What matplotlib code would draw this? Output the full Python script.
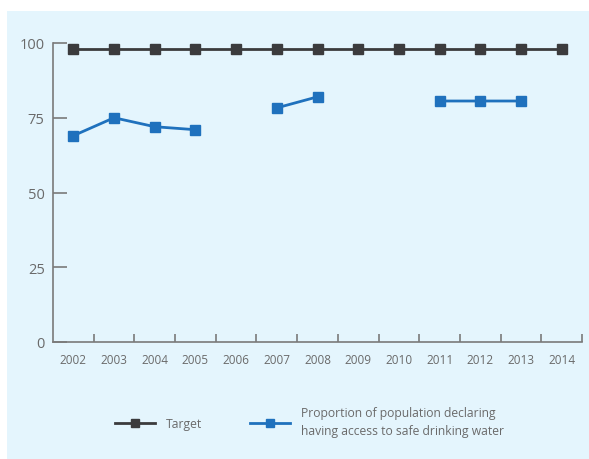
import numpy as np
import matplotlib.pyplot as plt
from matplotlib.patches import Rectangle

plt.rcParams['font.family'] = ['Open Sans', 'DejaVu Sans']

years = [2002, 2003, 2004, 2005, 2006, 2007, 2008, 2009, 2010, 2011, 2012, 2013, 2014]
target = [98, 98, 98, 98, 98, 98, 98, 98, 98, 98, 98, 98, 98]
# gaps (None) where no survey value exists
access = [69, 75, 72, 71, None, 78.3, 82, None, None, 80.6, 80.6, 80.6, None]
yticks = [0, 25, 50, 75, 100]

BG = '#E4F5FD'
AXIS = '#7a7a7a'
TEXT = '#6a6a6a'
DARK = '#3b3b3d'
BLUE = '#1f71bd'

W, H = 589, 460
fig = plt.figure(figsize=(W / 100, H / 100), dpi=100)
fig.patch.set_facecolor('white')
fig.patches.append(Rectangle((7 / W, 0), 1 - 7 / W, 1 - 12 / H,
                             transform=fig.transFigure, facecolor=BG,
                             edgecolor='none', zorder=-5))

ax = fig.add_axes([53 / W, 1 - 343 / H, (582 - 53) / W, (343 - 44) / H])
ax.set_facecolor('none')

x = np.arange(len(years))
acc = np.array([np.nan if v is None else v for v in access], dtype=float)

ax.plot(x, target, color=DARK, lw=2, marker='s', ms=6.5, mec=DARK,
        label='Target', zorder=3, clip_on=False)
ax.plot(x, acc, color=BLUE, lw=2, marker='s', ms=6.5, mec=BLUE,
        label='Proportion of population declaring\nhaving access to safe drinking water',
        zorder=3, clip_on=False)

ax.set_xlim(-0.5, len(years) - 0.5)
ax.set_ylim(0, 100)

for s in ['top', 'right']:
    ax.spines[s].set_visible(False)
for s in ['left', 'bottom']:
    ax.spines[s].set_color(AXIS)
    ax.spines[s].set_linewidth(1.2)

# y ticks point inward
ax.set_yticks(yticks)
ax.tick_params(axis='y', direction='in', length=10, width=1.2, color=AXIS,
               labelsize=10.5, labelcolor=TEXT, pad=6)

# x ticks on category boundaries, labels on centres
ax.set_xticks(np.arange(0.5, len(years), 1.0))
ax.set_xticklabels([])
ax.tick_params(axis='x', which='major', direction='in', length=6, width=1.2,
               color=AXIS)
ax.set_xticks(x, minor=True)
ax.set_xticklabels([str(y) for y in years], minor=True)
ax.tick_params(axis='x', which='minor', length=0, labelsize=8.5,
               labelcolor=TEXT, pad=8)

leg = fig.legend(loc='center left', bbox_to_anchor=(104 / W, 1 - 423 / H),
                 ncol=2, frameon=False, fontsize=8.7, handlelength=3.3,
                 columnspacing=4.0, handletextpad=0.9, labelcolor=TEXT,
                 markerscale=0.8)
for t in leg.get_texts():
    t.set_linespacing(1.5)

fig.savefig('out.png', dpi=100, facecolor='white')
